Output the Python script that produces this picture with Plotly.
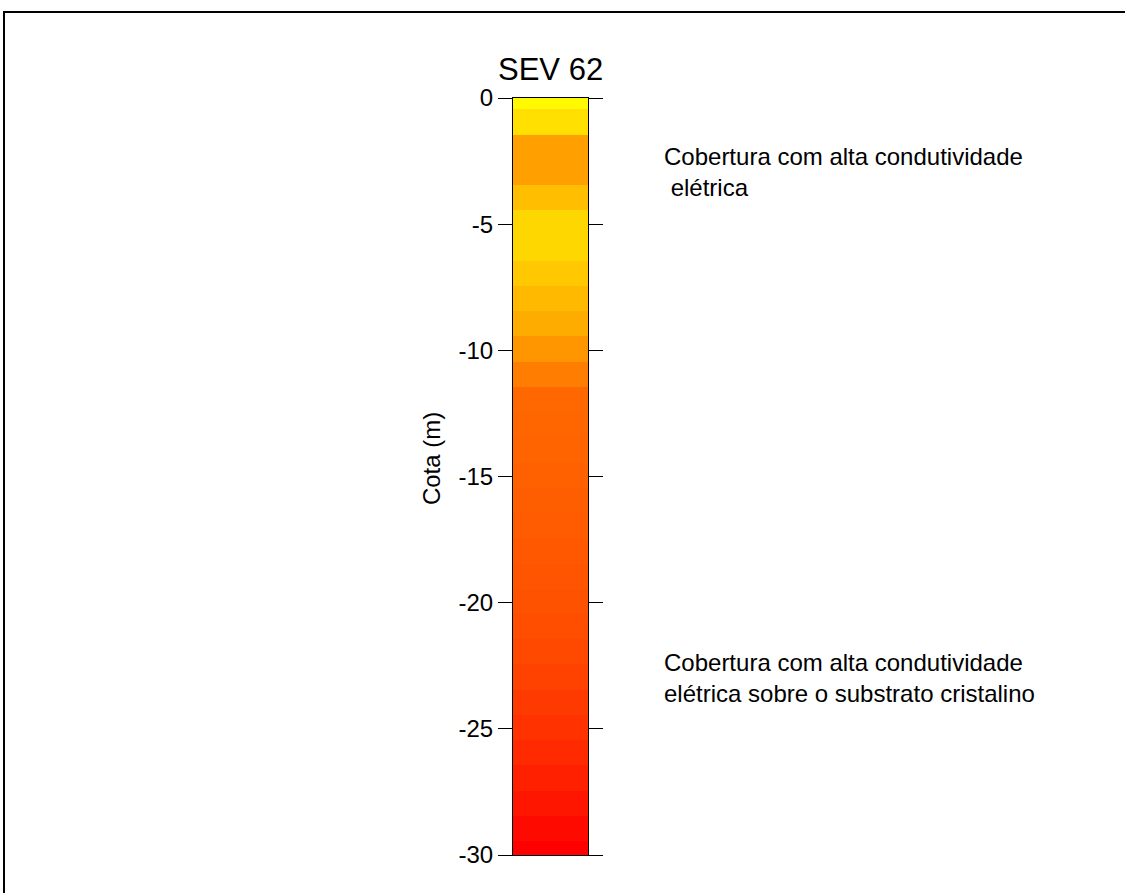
import plotly.graph_objects as go

# Layer boundaries (m, elevation) and fill colours of the SEV 62 column
layer_top = [0.0, -0.45, -1.45, -3.45, -4.45, -6.45, -7.45, -8.45, -9.45, -10.45,
             -11.45, -12.45, -13.45, -14.45, -15.45, -16.45, -17.45, -18.45, -19.45,
             -20.45, -21.45, -22.45, -23.45, -24.45, -25.45, -26.45, -27.45, -28.45, -29.45]
layer_bottom = [-0.45, -1.45, -3.45, -4.45, -6.45, -7.45, -8.45, -9.45, -10.45, -11.45,
                -12.45, -13.45, -14.45, -15.45, -16.45, -17.45, -18.45, -19.45, -20.45,
                -21.45, -22.45, -23.45, -24.45, -25.45, -26.45, -27.45, -28.45, -29.45, -30.0]
layer_color = ["rgb(255,250,0)", "rgb(255,224,0)", "rgb(255,160,0)", "rgb(255,190,0)",
               "rgb(255,215,0)", "rgb(255,200,0)", "rgb(255,186,0)", "rgb(255,172,0)",
               "rgb(255,150,0)", "rgb(255,125,0)",
               "rgb(255,104,0)", "rgb(255,102,0)", "rgb(255,100,0)", "rgb(255,97,0)",
               "rgb(255,94,0)", "rgb(255,91,0)", "rgb(255,88,0)", "rgb(255,85,0)",
               "rgb(255,82,0)", "rgb(255,78,0)", "rgb(255,73,0)", "rgb(255,66,0)",
               "rgb(255,58,0)", "rgb(255,50,0)", "rgb(255,42,0)", "rgb(255,32,0)",
               "rgb(255,22,0)", "rgb(255,10,0)", "rgb(255,0,0)"]

y_ticks = [0, -5, -10, -15, -20, -25, -30]

notes = [
    ("Cobertura com alta condutividade<br>\u00a0elétrica", -2.95),
    ("Cobertura com alta condutividade<br>elétrica sobre o substrato cristalino", -22.97),
]

FONT = "Arial, Liberation Sans, sans-serif"

fig = go.Figure()
fig.add_trace(go.Bar(
    x=[0] * len(layer_top),
    base=layer_bottom,
    y=[t - b for t, b in zip(layer_top, layer_bottom)],
    width=1.0,
    marker=dict(color=layer_color, line=dict(width=0)),
    hoverinfo="skip",
    showlegend=False,
))

for text, yc in notes:
    fig.add_annotation(
        text=text, x=(662 - 513) / 75, y=yc, xref="paper", yref="y",
        xanchor="left", yanchor="middle", align="left", showarrow=False,
        font=dict(family=FONT, size=24, color="black"),
    )

# axis title
fig.add_annotation(
    text="Cota (m)", x=-1.093, y=0.523, xref="paper", yref="paper",
    textangle=-90, showarrow=False, xanchor="center", yanchor="middle",
    font=dict(family=FONT, size=24, color="black"),
)

# column title
fig.add_annotation(
    text="SEV 62", x=0.5, y=1.0, xref="paper", yref="paper",
    xanchor="center", yanchor="bottom", yshift=9, showarrow=False,
    font=dict(family=FONT, size=31, color="black"),
)

# outer frame
fig.add_shape(
    type="rect", xref="paper", yref="paper",
    x0=(4 - 513) / 75, x1=(1140 - 513) / 75,
    y0=(855 - 910) / 757, y1=(855 - 12) / 757,
    line=dict(color="black", width=2), fillcolor="rgba(0,0,0,0)", layer="below",
)

fig.update_layout(
    width=1125, height=893,
    margin=dict(l=513, r=537, t=98, b=38),
    paper_bgcolor="white", plot_bgcolor="white",
    barmode="overlay", bargap=0,
    font=dict(family=FONT, color="black"),
    xaxis=dict(range=[-0.5, 0.5], showticklabels=False, ticks="", showgrid=False,
               zeroline=False, showline=True, linecolor="black", linewidth=1, mirror=True,
               fixedrange=True),
    yaxis=dict(range=[-30, 0], tickvals=y_ticks, ticktext=[str(v) for v in y_ticks],
               ticks="outside", ticklen=14, tickcolor="black", tickwidth=1,
               showline=True, linecolor="black", linewidth=1, mirror="ticks",
               showgrid=False, zeroline=False, ticklabelstandoff=0,
               tickfont=dict(family=FONT, size=24, color="black")),
)

fig.write_html("out.html")
